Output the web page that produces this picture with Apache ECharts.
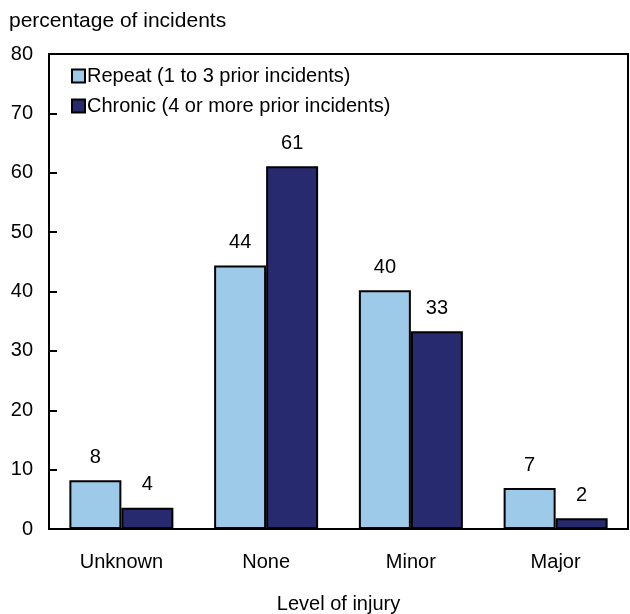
<!DOCTYPE html>
<html>
<head>
<meta charset="utf-8">
<script src="https://cdn.jsdelivr.net/npm/echarts@6/dist/echarts.min.js"></script>
<style>html,body{margin:0;padding:0;background:#fff}#c{width:630px;height:614px}</style>
</head>
<body>
<div id="c"></div>
<script>
const categories = ["Unknown", "None", "Minor", "Major"];
const repeatValues = [8.2, 44.4, 40.2, 6.9];
const chronicValues = [3.6, 61.1, 33.3, 1.8];
const yTicks = [0, 10, 20, 30, 40, 50, 60, 70, 80];
const seriesNames = ["Repeat (1 to 3 prior incidents)", "Chronic (4 or more prior incidents)"];

const FONT = "Liberation Sans, Arial, sans-serif";
const FS = 20;
const chart = echarts.init(document.getElementById('c'), null, {renderer: 'canvas'});
const labelCfg = {
  show: true, position: 'top', distance: 13, color: '#000', fontSize: FS, fontFamily: FONT,
  formatter: p => String(Math.round(p.value))
};
chart.setOption({
  animation: false,
  textStyle: {fontFamily: FONT},
  grid: {left: 49, right: 2, top: 54, bottom: 85, outerBoundsMode: 'none', containLabel: false,
         show: true, borderColor: '#000', borderWidth: 2, backgroundColor: 'transparent'},
  legend: {
    orient: 'vertical', left: 66, top: 61, itemWidth: 13, itemHeight: 13, itemGap: 10,
    icon: 'rect',
    textStyle: {fontSize: FS, color: '#000', fontFamily: FONT, padding: [0, 0, 0, -3]},
    data: seriesNames
  },
  graphic: [{
    type: 'text', left: 9, top: 11,
    style: {text: 'percentage of incidents', fontSize: 21, fill: '#000', fontFamily: FONT}
  }],
  xAxis: {
    type: 'category', data: categories,
    name: 'Level of injury', nameLocation: 'middle', nameGap: 65,
    nameTextStyle: {fontSize: FS, color: '#000', fontFamily: FONT},
    axisLine: {lineStyle: {color: '#000', width: 2}},
    axisTick: {show: false},
    axisLabel: {fontSize: FS, color: '#000', margin: 23, fontFamily: FONT}
  },
  yAxis: {
    type: 'value', min: yTicks[0], max: yTicks[yTicks.length - 1], interval: 10,
    axisLine: {show: true, lineStyle: {color: '#000', width: 2}},
    axisTick: {show: true, inside: true, length: 8, lineStyle: {color: '#000', width: 2}},
    axisLabel: {fontSize: FS, color: '#000', margin: 16, fontFamily: FONT},
    splitLine: {show: false}
  },
  series: [
    {name: seriesNames[0], type: 'bar', data: repeatValues, barWidth: 52, barGap: '0%',
     itemStyle: {color: '#9ecae9', borderColor: '#000', borderWidth: 2}, label: labelCfg},
    {name: seriesNames[1], type: 'bar', data: chronicValues, barWidth: 52, barGap: '0%',
     itemStyle: {color: '#272a6e', borderColor: '#000', borderWidth: 2}, label: labelCfg}
  ]
});
</script>
</body>
</html>
